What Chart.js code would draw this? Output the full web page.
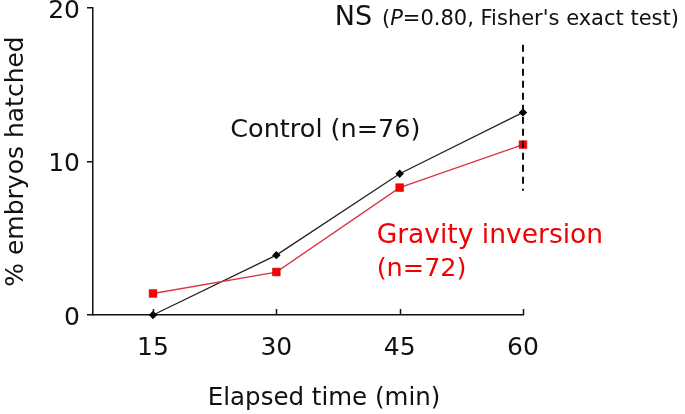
<!DOCTYPE html>
<html>
<head>
<meta charset="utf-8">
<script src="https://cdn.jsdelivr.net/npm/chart.js@4/dist/chart.umd.min.js"></script>
<style>
	html, body { margin: 0; padding: 0; background: #fff; }
	canvas { display: block; }
</style>
</head>
<body>
<canvas id="hatchChart" width="685" height="414"></canvas>
<script>
	// elapsed time points (min)
	const elapsedMin = [15, 30, 45, 60];
	// % embryos hatched
	const controlPct = [0, 3.9, 9.2, 13.2];
	const gravityPct = [1.4, 2.8, 8.3, 11.1];
	const xTickValues = [15, 30, 45, 60];
	const yTickValues = [0, 10, 20];
	// extent of the dashed marker at 60 min, in % units
	const nsLineRange = [8.1, 17.6];

	const fontFamily = "'DejaVu Sans', 'Liberation Sans', Arial, sans-serif";
	const ink = '#111';

	const toPoints = (xs, ys) => xs.map((x, i) => ({ x, y: ys[i] }));

	// free text, placed in data units (x: min, y: %)
	const notes = [
		{ x: 37.1, y: 18.9, size: 27, color: ink, parts: [{ t: 'NS' }] },
		{ x: 42.85, y: 18.9, size: 21, color: ink, parts: [{ t: '(' }, { t: 'P', italic: true }, { t: "=0.80, Fisher's exact test)" }] },
		{ x: 24.4, y: 11.6, size: 25.5, color: ink, parts: [{ t: 'Control (n=76)' }] },
		{ x: 42.2, y: 4.69, size: 26.5, color: '#f00000', parts: [{ t: 'Gravity inversion' }] },
		{ x: 42.2, y: 2.54, size: 25.5, color: '#f00000', parts: [{ t: '(n=72)' }] },
		{ x: 35.8, y: -5.85, size: 24.5, color: ink, align: 'center', parts: [{ t: 'Elapsed time (min)' }] }
	];

	const overlayPlugin = {
		id: 'overlay',
		afterDatasetsDraw(chart) {
			const { ctx, scales: { x, y } } = chart;
			ctx.save();

			// inward x ticks
			ctx.strokeStyle = ink;
			ctx.lineWidth = 1.5;
			xTickValues.forEach(v => {
				const px = Math.round(x.getPixelForValue(v)) + 0.5;
				ctx.beginPath();
				ctx.moveTo(px, y.bottom);
				ctx.lineTo(px, y.bottom - 6);
				ctx.stroke();
			});

			// dashed line at the last time point
			const lx = x.getPixelForValue(elapsedMin[elapsedMin.length - 1]);
			ctx.setLineDash([7, 5]);
			ctx.lineWidth = 2;
			ctx.beginPath();
			ctx.moveTo(lx, y.getPixelForValue(nsLineRange[1]));
			ctx.lineTo(lx, y.getPixelForValue(nsLineRange[0]));
			ctx.stroke();
			ctx.setLineDash([]);

			ctx.textBaseline = 'alphabetic';
			ctx.textAlign = 'left';
			notes.forEach(n => {
				let px = x.getPixelForValue(n.x);
				const py = y.getPixelForValue(n.y);
				ctx.fillStyle = n.color;
				if (n.align === 'center') {
					ctx.font = n.size + 'px ' + fontFamily;
					px -= n.parts.reduce((w, p) => w + ctx.measureText(p.t).width, 0) / 2;
				}
				n.parts.forEach(p => {
					ctx.font = (p.italic ? 'italic ' : '') + n.size + 'px ' + fontFamily;
					ctx.fillText(p.t, px, py);
					px += ctx.measureText(p.t).width;
				});
			});
			ctx.restore();
		}
	};

	new Chart(document.getElementById('hatchChart'), {
		type: 'line',
		data: {
			datasets: [
				{
					label: 'Gravity inversion (n=72)',
					data: toPoints(elapsedMin, gravityPct),
					borderColor: '#d9364a',
					backgroundColor: '#ff0000',
					borderWidth: 1.3,
					pointStyle: 'rect',
					pointRadius: 5.5,
					pointBorderWidth: 0.5,
					pointBorderColor: '#b00000',
					tension: 0
				},
				{
					label: 'Control (n=76)',
					data: toPoints(elapsedMin, controlPct),
					borderColor: '#222',
					backgroundColor: '#000',
					borderWidth: 1.3,
					pointStyle: 'rectRot',
					pointRadius: 4.2,
					pointBorderWidth: 0,
					tension: 0
				}
			]
		},
		options: {
			responsive: false,
			animation: false,
			clip: false,
			layout: { padding: { top: 8, right: 162, bottom: 0, left: 0 } },
			plugins: {
				legend: { display: false },
				tooltip: { enabled: false }
			},
			scales: {
				x: {
					type: 'linear',
					min: 7.7,
					max: 60,
					afterBuildTicks: s => { s.ticks = xTickValues.map(value => ({ value })); },
					afterFit: s => { s.height = 99; s.paddingLeft = 0; s.paddingRight = 0; },
					grid: { display: false },
					border: { display: true, color: ink, width: 1.5 },
					ticks: {
						color: ink,
						padding: 10,
						maxRotation: 0,
						font: { family: fontFamily, size: 25 }
					},
					title: { display: false }
				},
				y: {
					min: 0,
					max: 20,
					afterBuildTicks: s => { s.ticks = yTickValues.map(value => ({ value })); },
					afterFit: s => { s.width = 93; s.paddingTop = 0; s.paddingBottom = 0; },
					grid: { drawOnChartArea: false, tickLength: 6, color: ink, lineWidth: 1.5 },
					border: { display: true, color: ink, width: 1.5 },
					ticks: {
						color: ink,
						padding: 7,
						labelOffset: 3,
						font: { family: fontFamily, size: 25 }
					},
					title: {
						display: true,
						text: '% embryos hatched',
						color: ink,
						padding: { top: 4, bottom: 0 },
						font: { family: fontFamily, size: 25, lineHeight: 1 }
					}
				}
			}
		},
		plugins: [overlayPlugin]
	});
</script>
</body>
</html>
